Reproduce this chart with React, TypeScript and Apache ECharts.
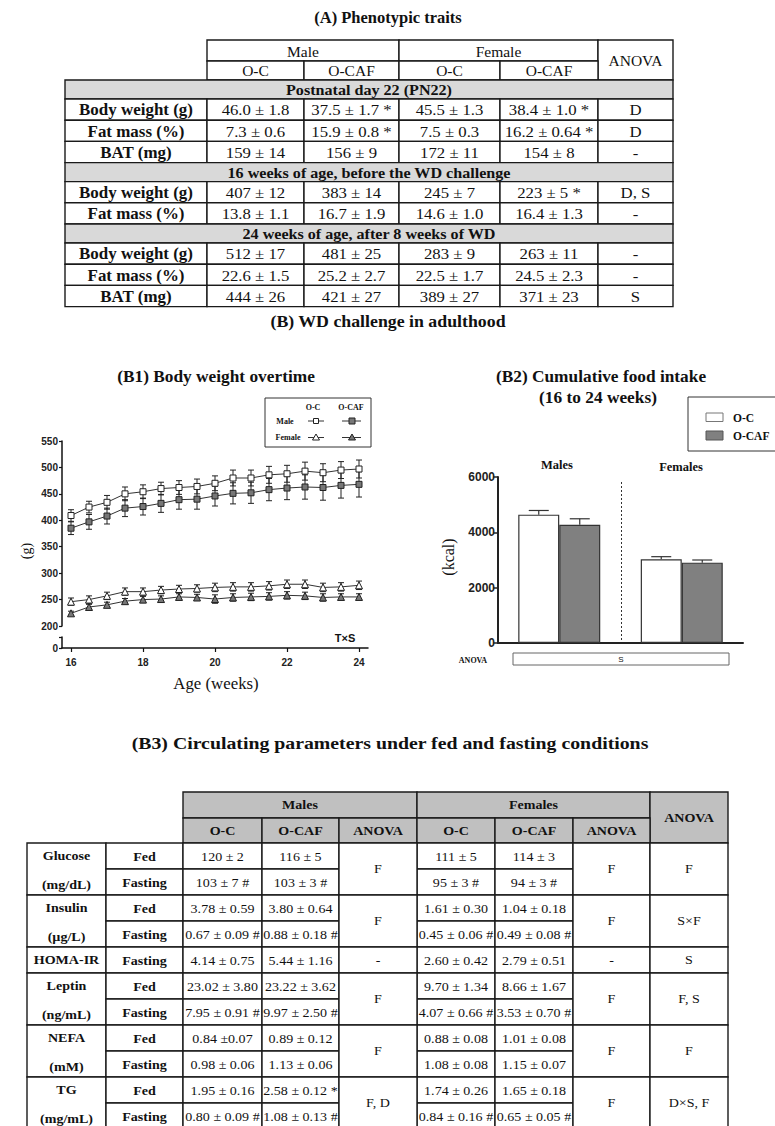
import React, { useEffect, useRef } from 'react';
import * as echarts from 'echarts';

const SERIF = '"Liberation Serif", "Times New Roman", serif';
const SANS = '"Liberation Sans", Arial, sans-serif';

// ---------- (A) Phenotypic traits ----------
const phenoSexes = ['Male', 'Female'];
const phenoDiets = ['O-C', 'O-CAF'];
const phenoSections = [
  'Postnatal day 22 (PN22)',
  '16 weeks of age, before the WD challenge',
  '24 weeks of age, after 8 weeks of WD',
];
const pn22Rows = [
  ['Body weight (g)', '46.0 ± 1.8', '37.5 ± 1.7 *', '45.5 ± 1.3', '38.4 ± 1.0 *', 'D'],
  ['Fat mass (%)', '7.3 ± 0.6', '15.9 ± 0.8 *', '7.5 ± 0.3', '16.2 ± 0.64 *', 'D'],
  ['BAT (mg)', '159 ± 14', '156 ± 9', '172 ± 11', '154 ± 8', '-'],
];
const wk16Rows = [
  ['Body weight (g)', '407 ± 12', '383 ± 14', '245 ± 7', '223 ± 5 *', 'D, S'],
  ['Fat mass (%)', '13.8 ± 1.1', '16.7 ± 1.9', '14.6 ± 1.0', '16.4 ± 1.3', '-'],
];
const wk24Rows = [
  ['Body weight (g)', '512 ± 17', '481 ± 25', '283 ± 9', '263 ± 11', '-'],
  ['Fat mass (%)', '22.6 ± 1.5', '25.2 ± 2.7', '22.5 ± 1.7', '24.5 ± 2.3', '-'],
  ['BAT (mg)', '444 ± 26', '421 ± 27', '389 ± 27', '371 ± 23', 'S'],
];

// ---------- (B1) Body weight overtime ----------
const weeks = [16, 16.5, 17, 17.5, 18, 18.5, 19, 19.5, 20, 20.5, 21, 21.5, 22, 22.5, 23, 23.5, 24];
const maleOC = [409, 425, 434, 450, 454, 460, 462, 464, 470, 480, 480, 486, 488, 493, 490, 495, 497];
const maleOCErr = [11, 11, 13, 13, 13, 12, 13, 14, 14, 15, 15, 16, 16, 17, 17, 16, 17];
const maleOCAF = [385, 397, 408, 423, 426, 432, 439, 440, 446, 451, 452, 458, 461, 463, 462, 466, 468];
const maleOCAFErr = [12, 14, 15, 16, 16, 17, 18, 19, 19, 20, 20, 21, 22, 23, 24, 24, 24];
const femaleOC = [246, 250, 257, 265, 265, 268, 270, 271, 273, 274, 274, 276, 279, 279, 273, 274, 277];
const femaleOCErr = [7, 7, 7, 7, 7, 7, 7, 7, 8, 8, 8, 8, 8, 8, 8, 8, 8];
const femaleOCAF = [224, 236, 240, 247, 250, 251, 255, 254, 251, 254, 255, 256, 258, 257, 254, 255, 255];
const femaleOCAFErr = [4, 5, 5, 5, 6, 6, 6, 6, 8, 7, 7, 7, 7, 7, 7, 6, 6];
const b1XTicks = [16, 18, 20, 22, 24];

// ---------- (B2) Cumulative food intake ----------
const intakeGroups = ['Males', 'Females'];
const intakeOC = [4640, 3025];
const intakeOCErr = [150, 95];
const intakeOCAF = [4275, 2905];
const intakeOCAFErr = [215, 95];

// ---------- (B3) Circulating parameters ----------
const b3Params = ['Glucose', 'Insulin', 'HOMA-IR', 'Leptin', 'NEFA', 'TG'];
const b3Units = ['(mg/dL)', '(µg/L)', '', '(ng/mL)', '(mM)', '(mg/mL)'];
const b3Conditions = [
  ['Fed', 'Fasting'],
  ['Fed', 'Fasting'],
  ['Fasting'],
  ['Fed', 'Fasting'],
  ['Fed', 'Fasting'],
  ['Fed', 'Fasting'],
];
const b3MaleOC = [
  ['120 ± 2', '103 ± 7 #'],
  ['3.78 ± 0.59', '0.67 ± 0.09 #'],
  ['4.14 ± 0.75'],
  ['23.02 ± 3.80', '7.95 ± 0.91 #'],
  ['0.84 ±0.07', '0.98 ± 0.06'],
  ['1.95 ± 0.16', '0.80 ± 0.09 #'],
];
const b3MaleOCAF = [
  ['116 ± 5', '103 ± 3 #'],
  ['3.80 ± 0.64', '0.88 ± 0.18 #'],
  ['5.44 ± 1.16'],
  ['23.22 ± 3.62', '9.97 ± 2.50 #'],
  ['0.89 ± 0.12', '1.13 ± 0.06'],
  ['2.58 ± 0.12 *', '1.08 ± 0.13 #'],
];
const b3MaleAnova = ['F', 'F', '-', 'F', 'F', 'F, D'];
const b3FemaleOC = [
  ['111 ± 5', '95 ± 3 #'],
  ['1.61 ± 0.30', '0.45 ± 0.06 #'],
  ['2.60 ± 0.42'],
  ['9.70 ± 1.34', '4.07 ± 0.66 #'],
  ['0.88 ± 0.08', '1.08 ± 0.08'],
  ['1.74 ± 0.26', '0.84 ± 0.16 #'],
];
const b3FemaleOCAF = [
  ['114 ± 3', '94 ± 3 #'],
  ['1.04 ± 0.18', '0.49 ± 0.08 #'],
  ['2.79 ± 0.51'],
  ['8.66 ± 1.67', '3.53 ± 0.70 #'],
  ['1.01 ± 0.08', '1.15 ± 0.07'],
  ['1.65 ± 0.18', '0.65 ± 0.05 #'],
];
const b3FemaleAnova = ['F', 'F', '-', 'F', 'F', 'F'];
const b3Anova = ['F', 'S×F', 'S', 'F, S', 'F', 'D×S, F'];

function buildGraphics() {
  const shapes: any[] = [];
  const texts: any[] = [];
  const rect = (x1: number, y1: number, x2: number, y2: number, fill = '#fff', lw = 1.4, stroke = '#1a1a1a') => {
    shapes.push({
      type: 'rect', silent: true,
      shape: { x: x1, y: y1, width: x2 - x1, height: y2 - y1 },
      style: { fill, stroke, lineWidth: lw },
    });
  };
  const line = (x1: number, y1: number, x2: number, y2: number, stroke = '#222', lw = 1, dash?: number[]) => {
    shapes.push({
      type: 'line', silent: true,
      shape: { x1, y1, x2, y2 },
      style: { stroke, lineWidth: lw, lineDash: dash },
    });
  };
  const text = (x: number, y: number, s: string, size: number, bold = false, align = 'center', family = SERIF, extra: any = {}) => {
    texts.push({
      type: 'text', silent: true, x, y, ...extra,
      style: {
        text: s, fontSize: size, fontWeight: bold ? 'bold' : 'normal', fontFamily: family,
        fill: '#111', textAlign: align, textVerticalAlign: 'middle', align, verticalAlign: 'middle',
      },
    });
  };

  // Titles
  const tSize = 16.5;
  text(388, 17, '(A) Phenotypic traits', tSize, true);
  text(388, 322, '(B) WD challenge in adulthood', tSize, true, 'center', SERIF, { scaleX: 1.08 });
  text(216, 377, '(B1) Body weight overtime', tSize, true, 'center', SERIF, { scaleX: 1.05 });
  text(601, 377, '(B2) Cumulative food intake', tSize, true, 'center', SERIF, { scaleX: 1.05 });
  text(598, 398, '(16 to 24 weeks)', tSize, true, 'center', SERIF, { scaleX: 1.05 });
  text(390, 744, '(B3) Circulating parameters under fed and fasting conditions', tSize, true, 'center', SERIF, { scaleX: 1.2 });

  // ----- Table A -----
  const ax = [65, 207, 304, 399, 500, 598, 673];
  const aSize = 15.5;
  rect(ax[1], 40, ax[3], 61); text((ax[1] + ax[3]) / 2, 51, phenoSexes[0], aSize);
  rect(ax[3], 40, ax[5], 61); text((ax[3] + ax[5]) / 2, 51, phenoSexes[1], aSize);
  rect(ax[5], 40, ax[6], 80); text((ax[5] + ax[6]) / 2, 60, 'ANOVA', aSize);
  for (let i = 0; i < 4; i++) {
    rect(ax[1 + i], 61, ax[2 + i], 80);
    text((ax[1 + i] + ax[2 + i]) / 2, 70.5, phenoDiets[i % 2], aSize);
  }
  const sectionsRows = [pn22Rows, wk16Rows, wk24Rows];
  const bandH = 19;
  const rowH = 21.2;
  let y = 80;
  sectionsRows.forEach((rows, si) => {
    rect(ax[0], y, ax[6], y + bandH, '#d9d9d9');
    text((ax[0] + ax[6]) / 2, y + bandH / 2 + 0.5, phenoSections[si], aSize, true, 'center', SERIF, { scaleX: 1.04 });
    y += bandH;
    rows.forEach((r) => {
      rect(ax[0], y, ax[1], y + rowH);
      text((ax[0] + ax[1]) / 2, y + rowH / 2 + 0.5, r[0], aSize + 0.5, true, 'center', SERIF, { scaleX: 1.06 });
      for (let j = 1; j <= 5; j++) {
        rect(ax[j], y, ax[j + 1], y + rowH);
        text((ax[j] + ax[j + 1]) / 2, y + rowH / 2 + 0.5, r[j], aSize, false, 'center', SERIF, { scaleX: 1.08 });
      }
      y += rowH;
    });
  });

  // ----- B1 legend -----
  rect(265, 398, 371, 447, '#fff', 1, '#333');
  text(313, 407, 'O-C', 8, true);
  text(351, 407, 'O-CAF', 8, true);
  text(285, 421, 'Male', 8, true);
  text(288, 437, 'Female', 8, true);
  line(308, 421, 324, 421, '#333', 1);
  line(342, 421, 361, 421, '#333', 1);
  line(308, 437.5, 324, 437.5, '#333', 1);
  line(342, 437.5, 361, 437.5, '#333', 1);
  rect(313.5, 418.5, 318.5, 423.5, '#fff', 1, '#222');
  rect(349, 418, 355, 424, '#777', 1, '#222');
  shapes.push({ type: 'polygon', silent: true, shape: { points: [[316, 434], [312.5, 440], [319.5, 440]] }, style: { fill: '#fff', stroke: '#222', lineWidth: 1 } });
  shapes.push({ type: 'polygon', silent: true, shape: { points: [[352, 434], [348.5, 440], [355.5, 440]] }, style: { fill: '#777', stroke: '#222', lineWidth: 1 } });

  // B1 axis texts
  text(216, 684, 'Age (weeks)', 16, false, 'center', SERIF, { scaleX: 1.05 });
  text(26, 551, '(g)', 14, false, 'center', SERIF, { rotation: Math.PI / 2 });
  text(345, 638, 'T×S', 11, true, 'center', SANS);

  // ----- B2 extras -----
  rect(688, 397, 780, 451, '#fff', 1, '#333');
  rect(706, 413, 723, 421.5, '#fff', 1, '#777');
  rect(706, 431, 723, 440, '#808080', 1, '#555');
  text(733, 417.5, 'O-C', 11.5, true, 'left');
  text(733, 436, 'O-CAF', 11.5, true, 'left');
  text(557, 465, intakeGroups[0], 12.5, true);
  text(681, 467, intakeGroups[1], 12.5, true);
  line(621.5, 482, 621.5, 643, '#333', 1, [2, 2]);
  text(448, 557, '(kcal)', 16, false, 'center', SERIF, { rotation: Math.PI / 2 });
  text(473, 660, 'ANOVA', 8, true);
  rect(513, 653, 729, 665, '#fff', 1, '#666');
  text(621, 659.5, 'S', 8, false, 'center', SANS);

  // ----- Table B3 -----
  const bx = [27, 106, 183, 262, 339, 417, 495, 573, 650, 728];
  const gray = '#c0c0c0';
  const bSize = 13;
  const bScale = { scaleX: 1.08 };
  rect(bx[2], 792, bx[5], 818, gray); text((bx[2] + bx[5]) / 2, 805, 'Males', bSize, true, 'center', SERIF, bScale);
  rect(bx[5], 792, bx[8], 818, gray); text((bx[5] + bx[8]) / 2, 805, 'Females', bSize, true, 'center', SERIF, bScale);
  rect(bx[8], 792, bx[9], 843, gray); text((bx[8] + bx[9]) / 2, 818, 'ANOVA', bSize, true, 'center', SERIF, bScale);
  const subHeads = ['O-C', 'O-CAF', 'ANOVA', 'O-C', 'O-CAF', 'ANOVA'];
  subHeads.forEach((h, i) => {
    rect(bx[2 + i], 818, bx[3 + i], 843, gray);
    text((bx[2 + i] + bx[3 + i]) / 2, 831, h, bSize, true, 'center', SERIF, bScale);
  });
  const bRowH = 26;
  let by = 843;
  b3Params.forEach((p, pi) => {
    const conds = b3Conditions[pi];
    const k = conds.length;
    const y0 = by;
    const y1 = by + k * bRowH;
    rect(bx[0], y0, bx[1], y1);
    text((bx[0] + bx[1]) / 2, y0 + bRowH / 2, p, bSize, true, 'center', SERIF, bScale);
    if (k === 2) {
      text((bx[0] + bx[1]) / 2, y0 + bRowH * 1.5 + 3, b3Units[pi], bSize, true, 'center', SERIF, bScale);
    }
    conds.forEach((c, ci) => {
      const ry = y0 + ci * bRowH;
      rect(bx[1], ry, bx[2], ry + bRowH);
      text((bx[1] + bx[2]) / 2, ry + bRowH / 2 + 1, c, bSize, true, 'center', SERIF, bScale);
      const vals = [b3MaleOC[pi][ci], b3MaleOCAF[pi][ci]];
      const fvals = [b3FemaleOC[pi][ci], b3FemaleOCAF[pi][ci]];
      [0, 1].forEach((j) => {
        rect(bx[2 + j], ry, bx[3 + j], ry + bRowH);
        text((bx[2 + j] + bx[3 + j]) / 2, ry + bRowH / 2 + 1, vals[j], bSize, false, 'center', SERIF, bScale);
        rect(bx[5 + j], ry, bx[6 + j], ry + bRowH);
        text((bx[5 + j] + bx[6 + j]) / 2, ry + bRowH / 2 + 1, fvals[j], bSize, false, 'center', SERIF, bScale);
      });
    });
    rect(bx[4], y0, bx[5], y1); text((bx[4] + bx[5]) / 2, (y0 + y1) / 2, b3MaleAnova[pi], bSize, false, 'center', SERIF, bScale);
    rect(bx[7], y0, bx[8], y1); text((bx[7] + bx[8]) / 2, (y0 + y1) / 2, b3FemaleAnova[pi], bSize, false, 'center', SERIF, bScale);
    rect(bx[8], y0, bx[9], y1); text((bx[8] + bx[9]) / 2, (y0 + y1) / 2, b3Anova[pi], bSize, false, 'center', SERIF, bScale);
    by = y1;
  });

  return [...shapes, ...texts];
}

function errSeries(name: string, vals: number[], errs: number[], cap: number) {
  return {
    type: 'custom', name, xAxisIndex: 0, yAxisIndex: 0, z: 2, silent: true,
    data: weeks.map((w, i) => [w, vals[i], errs[i]]),
    encode: { x: 0, y: 1 },
    renderItem: (params: any, api: any) => {
      const x = api.value(0), v = api.value(1), e = api.value(2);
      const top = api.coord([x, v + e]);
      const bot = api.coord([x, v - e]);
      const st = { stroke: '#222', lineWidth: 1 };
      return {
        type: 'group',
        children: [
          { type: 'line', shape: { x1: top[0], y1: top[1], x2: bot[0], y2: bot[1] }, style: st },
          { type: 'line', shape: { x1: top[0] - cap, y1: top[1], x2: top[0] + cap, y2: top[1] }, style: st },
          { type: 'line', shape: { x1: bot[0] - cap, y1: bot[1], x2: bot[0] + cap, y2: bot[1] }, style: st },
        ],
      };
    },
  };
}

function lineSeries(name: string, vals: number[], symbol: string, size: number, fill: string) {
  return {
    type: 'line', name, xAxisIndex: 0, yAxisIndex: 0, z: 3,
    data: weeks.map((w, i) => [w, vals[i]]),
    symbol, symbolSize: size, showSymbol: true,
    itemStyle: { color: fill, borderColor: '#222', borderWidth: 1 },
    lineStyle: { color: '#333', width: 1 },
  };
}

function barErr(name: string, vals: number[], errs: number[], offset: number) {
  return {
    type: 'custom', name, xAxisIndex: 2, yAxisIndex: 2, z: 1, silent: true,
    data: intakeGroups.map((g, i) => [i, vals[i], errs[i]]),
    encode: { x: 0, y: 1 },
    renderItem: (params: any, api: any) => {
      const c = api.value(0), v = api.value(1), e = api.value(2);
      const p0 = api.coord([c, v]);
      const p1 = api.coord([c, v + e]);
      const x = p0[0] + offset;
      const st = { stroke: '#333', lineWidth: 1.2 };
      return {
        type: 'group',
        children: [
          { type: 'line', shape: { x1: x, y1: p0[1], x2: x, y2: p1[1] }, style: st },
          { type: 'line', shape: { x1: x - 10, y1: p1[1], x2: x + 10, y2: p1[1] }, style: st },
        ],
      };
    },
  };
}

export default function App() {
  const ref = useRef<HTMLDivElement>(null);
  useEffect(() => {
    if (!ref.current) return;
    const chart = echarts.init(ref.current, undefined, { renderer: 'svg' });
    const axisLbl = { fontFamily: SANS, fontWeight: 'bold', color: '#222' };
    chart.setOption({
      animation: false,
      backgroundColor: '#fff',
      grid: [
        { left: 62, top: 441, width: 306, height: 185 },
        { left: 62, top: 637, width: 306, height: 11 },
        { left: 498, top: 477, width: 245, height: 166 },
      ],
      xAxis: [
        { gridIndex: 0, type: 'value', min: 15.75, max: 24.25, show: false },
        {
          gridIndex: 1, type: 'value', min: 15.75, max: 24.25,
          axisLine: { show: true, lineStyle: { color: '#111', width: 1.5 } },
          axisTick: { show: true, length: 4, customValues: b1XTicks, lineStyle: { color: '#111', width: 1.2 } },
          axisLabel: { ...axisLbl, fontSize: 10, margin: 9, customValues: b1XTicks },
          splitLine: { show: false },
        },
        {
          gridIndex: 2, type: 'category', data: intakeGroups,
          axisLine: { show: true, lineStyle: { color: '#222', width: 2 } },
          axisTick: { show: false }, axisLabel: { show: false },
        },
      ],
      yAxis: [
        {
          gridIndex: 0, type: 'value', min: 200, max: 550, interval: 50,
          axisLine: { show: true, lineStyle: { color: '#111', width: 1.5 } },
          axisTick: { show: true, length: 3, lineStyle: { color: '#111', width: 1.2 } },
          axisLabel: { ...axisLbl, fontSize: 10, margin: 4 },
          splitLine: { show: false },
        },
        {
          gridIndex: 1, type: 'value', min: 0, max: 20,
          axisLine: { show: true, lineStyle: { color: '#111', width: 1.5 } },
          axisTick: { show: true, length: 3, customValues: [0, 20], lineStyle: { color: '#111', width: 1.2 } },
          axisLabel: { ...axisLbl, fontSize: 10, margin: 4, customValues: [0] },
          splitLine: { show: false },
        },
        {
          gridIndex: 2, type: 'value', min: 0, max: 6000, interval: 2000,
          axisLine: { show: true, lineStyle: { color: '#222', width: 2 } },
          axisTick: { show: true, length: 5, lineStyle: { color: '#222', width: 1.5 } },
          axisLabel: { ...axisLbl, fontSize: 12, margin: 3, formatter: (v: number) => String(v) },
          splitLine: { show: false },
        },
      ],
      series: [
        errSeries('Male O-C err', maleOC, maleOCErr, 3),
        errSeries('Male O-CAF err', maleOCAF, maleOCAFErr, 3),
        errSeries('Female O-C err', femaleOC, femaleOCErr, 3),
        errSeries('Female O-CAF err', femaleOCAF, femaleOCAFErr, 3),
        lineSeries('Male O-C', maleOC, 'rect', 6, '#fff'),
        lineSeries('Male O-CAF', maleOCAF, 'rect', 6, '#777'),
        lineSeries('Female O-C', femaleOC, 'triangle', 7, '#fff'),
        lineSeries('Female O-CAF', femaleOCAF, 'triangle', 7, '#777'),
        barErr('O-C err', intakeOC, intakeOCErr, -20.5),
        barErr('O-CAF err', intakeOCAF, intakeOCAFErr, 20.5),
        {
          type: 'bar', name: 'O-C', xAxisIndex: 2, yAxisIndex: 2, z: 2,
          data: intakeOC, barWidth: 41, barGap: '0%',
          itemStyle: { color: '#fff', borderColor: '#333', borderWidth: 1.2 },
        },
        {
          type: 'bar', name: 'O-CAF', xAxisIndex: 2, yAxisIndex: 2, z: 2,
          data: intakeOCAF, barWidth: 41, barGap: '0%',
          itemStyle: { color: '#808080', borderColor: '#333', borderWidth: 1.2 },
        },
      ],
      graphic: { elements: buildGraphics() },
    });
    return () => chart.dispose();
  }, []);
  return (
    <div
      ref={ref}
      style={{ position: 'absolute', left: 0, top: 0, width: 775, height: 1126, background: '#fff' }}
    />
  );
}
